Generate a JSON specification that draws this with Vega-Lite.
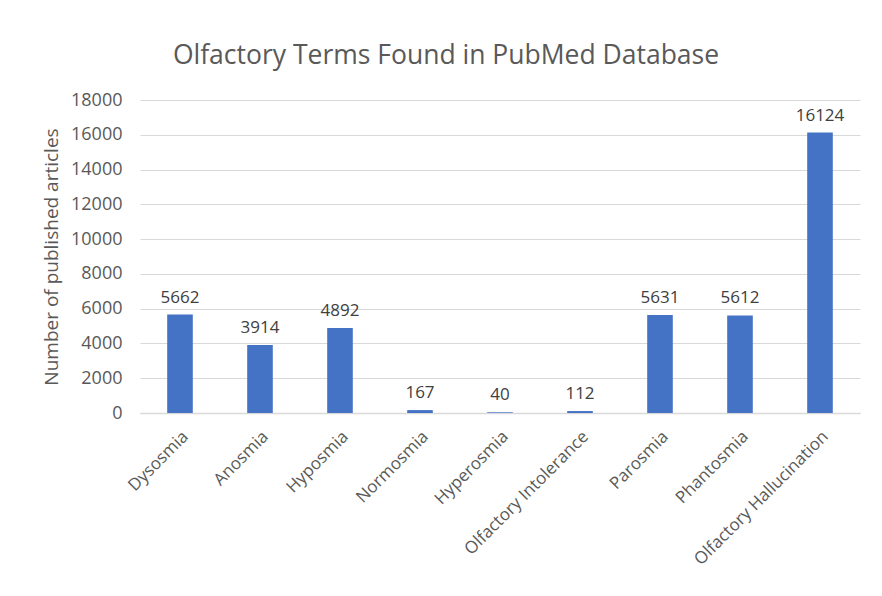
{
  "$schema": "https://vega.github.io/schema/vega-lite/v6.json",
  "width": 720,
  "height": 313,
  "autosize": {"type": "none"},
  "padding": {"left": 140, "top": 100, "right": 22, "bottom": 183},
  "background": "white",
  "config": {
    "font": "Open Sans",
    "view": {"stroke": null}
  },
  "title": {
    "text": "Olfactory Terms Found in PubMed Database",
    "fontSize": 26.5,
    "fontWeight": "normal",
    "color": "#595959",
    "font": "Open Sans",
    "anchor": "middle",
    "dx": -54,
    "offset": 22
  },
  "data": {
    "values": [
      {"term": "Dysosmia", "count": 5662},
      {"term": "Anosmia", "count": 3914},
      {"term": "Hyposmia", "count": 4892},
      {"term": "Normosmia", "count": 167},
      {"term": "Hyperosmia", "count": 40},
      {"term": "Olfactory Intolerance", "count": 112},
      {"term": "Parosmia", "count": 5631},
      {"term": "Phantosmia", "count": 5612},
      {"term": "Olfactory Hallucination", "count": 16124}
    ]
  },
  "encoding": {
    "x": {
      "field": "term",
      "type": "nominal",
      "sort": null,
      "scale": {"paddingInner": 0.68, "paddingOuter": 0.34},
      "axis": {
        "title": null,
        "labelAngle": -45,
        "labelFontSize": 17,
        "labelLimit": 400,
        "labelColor": "#595959",
        "labelPadding": 15,
        "ticks": false,
        "domainColor": "#d9d9d9",
        "domainWidth": 1.5
      }
    },
    "y": {
      "field": "count",
      "type": "quantitative",
      "scale": {"domain": [0, 18000], "nice": false},
      "axis": {
        "title": "Number of published articles",
        "titleFontSize": 19,
        "titleFontWeight": "normal",
        "titleColor": "#595959",
        "titlePadding": 9,
        "values": [0, 2000, 4000, 6000, 8000, 10000, 12000, 14000, 16000, 18000],
        "format": "d",
        "labelFontSize": 18,
        "labelColor": "#595959",
        "labelPadding": 18,
        "ticks": false,
        "domain": false,
        "gridColor": "#d9d9d9",
        "gridWidth": 1.2
      }
    }
  },
  "layer": [
    {"mark": {"type": "bar", "color": "#4472C4"}},
    {
      "mark": {"type": "text", "baseline": "bottom", "dy": -8, "fontSize": 17, "color": "#404040"},
      "encoding": {"text": {"field": "count", "type": "quantitative", "format": "d"}}
    }
  ]
}
